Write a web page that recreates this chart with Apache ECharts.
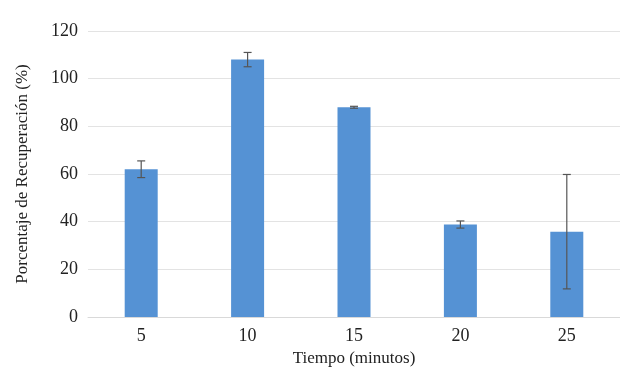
<!DOCTYPE html>
<html><head><meta charset="utf-8">
<script src="https://cdn.jsdelivr.net/npm/echarts@6/dist/echarts.min.js"></script>
<style>html,body{margin:0;padding:0;background:#fff}#c{width:620px;height:387px}</style>
</head><body><div id="c"></div>
<script>
var categories = ['5', '10', '15', '20', '25'];
var values = [62, 108, 88, 38.8, 35.8];
var errors = [3.5, 3, 0.4, 1.5, 24];
var yTicks = [0, 20, 40, 60, 80, 100, 120];

var chart = echarts.init(document.getElementById('c'));
var font = '"Liberation Serif", "DejaVu Serif", serif';
chart.setOption({
  animation: false,
  grid: {left: 88, right: 0, top: 31, bottom: 70},
  xAxis: {
    type: 'category', data: categories,
    axisLine: {lineStyle: {color: '#d9d9d9'}},
    axisTick: {show: false},
    axisLabel: {color: '#222', fontFamily: font, fontSize: 18, margin: 10},
    name: 'Tiempo (minutos)', nameLocation: 'middle', nameGap: 33,
    nameTextStyle: {color: '#222', fontFamily: font, fontSize: 17}
  },
  yAxis: {
    type: 'value', min: yTicks[0], max: yTicks[yTicks.length-1], interval: 20,
    axisLine: {show: false}, axisTick: {show: false},
    splitLine: {lineStyle: {color: '#e3e3e3'}},
    axisLabel: {color: '#222', fontFamily: font, fontSize: 18, margin: 10},
    name: 'Porcentaje de Recuperación (%)', nameLocation: 'middle', nameGap: 57,
    nameTextStyle: {color: '#222', fontFamily: font, fontSize: 17}
  },
  series: [{
    type: 'bar', data: values, barWidth: 33,
    itemStyle: {color: '#5592d4'}
  }, {
    type: 'custom',
    data: values.map(function (v, i) { return [i, v - errors[i], v + errors[i]]; }),
    renderItem: function (params, api) {
      var lo = api.coord([api.value(0), api.value(1)]);
      var hi = api.coord([api.value(0), api.value(2)]);
      var w = 4;
      var st = {stroke: '#555', lineWidth: 1.2};
      return {type: 'group', children: [
        {type: 'line', shape: {x1: lo[0], y1: lo[1], x2: hi[0], y2: hi[1]}, style: st},
        {type: 'line', shape: {x1: lo[0]-w, y1: lo[1], x2: lo[0]+w, y2: lo[1]}, style: st},
        {type: 'line', shape: {x1: hi[0]-w, y1: hi[1], x2: hi[0]+w, y2: hi[1]}, style: st}
      ]};
    },
    z: 10
  }]
});
</script></body></html>
